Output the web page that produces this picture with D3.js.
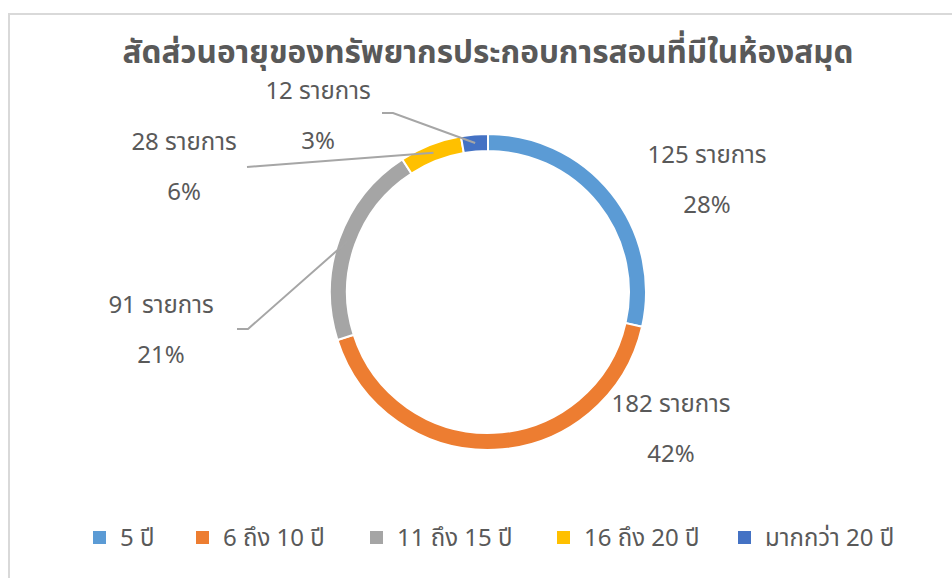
<!DOCTYPE html>
<html>
<head>
<meta charset="utf-8">
<script src="https://cdn.jsdelivr.net/npm/d3@7"></script>
<style>
  body { margin: 0; background: #ffffff; }
  svg text { font-family: "Noto Sans Thai", "Leelawadee UI", "Tahoma", "Noto Sans", "DejaVu Sans", sans-serif; }
</style>
</head>
<body>
<svg id="chart" width="952" height="578"></svg>
<script>
const title = "สัดส่วนอายุของทรัพยากรประกอบการสอนที่มีในห้องสมุด";
const categories = ["5 ปี", "6 ถึง 10 ปี", "11 ถึง 15 ปี", "16 ถึง 20 ปี", "มากกว่า 20 ปี"];
const counts = [125, 182, 91, 28, 12];
const percentLabels = ["28%", "42%", "21%", "6%", "3%"];
const colors = ["#5b9bd5", "#ed7d31", "#a5a5a5", "#ffc000", "#4472c4"];
const unit = "รายการ";

const svg = d3.select("#chart");
const W = 952, H = 578;

// chart area border
svg.append("rect")
  .attr("x", 9).attr("y", 14).attr("width", W + 20).attr("height", H + 20)
  .attr("fill", "#ffffff").attr("stroke", "#d9d9d9").attr("stroke-width", 2);

// title
svg.append("text")
  .attr("x", 488).attr("y", 63)
  .attr("text-anchor", "middle")
  .attr("font-size", 31.5).attr("font-weight", "bold")
  .attr("fill", "#595959")
  .text(title);

const cx = 488, cy = 292, rOuter = 158, rInner = 141;
const pie = d3.pie().sort(null).value(d => d)(counts);
const arc = d3.arc().innerRadius(rInner).outerRadius(rOuter);

const g = svg.append("g").attr("transform", `translate(${cx},${cy})`);
g.selectAll("path.slice").data(pie).join("path")
  .attr("class", "slice")
  .attr("d", arc)
  .attr("fill", (d, i) => colors[i])
  .attr("stroke", "#ffffff").attr("stroke-width", 2);

// label positions (relative to chart center) for each category
const labelPos = [
  { x: 219, y: -129 },
  { x: 183, y: 120 },
  { x: -327, y: 21 },
  { x: -304, y: -142 },
  { x: -170, y: -193 }
];
// leader lines: [label-side start, elbow] ; end on ring midpoint
const leaders = [
  null,
  null,
  { start: [-251, 37], elbow: [-240, 37] },
  { start: [-241, -125], elbow: [-228, -126] },
  { start: [-106, -179], elbow: [-95, -179] }
];
const midR = (rInner + rOuter) / 2;

pie.forEach((d, i) => {
  const L = leaders[i];
  if (L) {
    const a = (d.startAngle + d.endAngle) / 2;
    const end = [Math.sin(a) * midR, -Math.cos(a) * midR];
    g.append("polyline")
      .attr("points", [L.start, L.elbow, end].map(p => p.join(",")).join(" "))
      .attr("fill", "none").attr("stroke", "#a6a6a6").attr("stroke-width", 2);
  }
  const p = labelPos[i];
  g.append("text")
    .attr("x", p.x).attr("y", p.y)
    .attr("text-anchor", "middle")
    .attr("font-size", 24).attr("fill", "#595959")
    .text(counts[i] + " " + unit);
  g.append("text")
    .attr("x", p.x).attr("y", p.y + 50)
    .attr("text-anchor", "middle")
    .attr("font-size", 24).attr("fill", "#595959")
    .text(percentLabels[i]);
});

// legend
const legendX = [93, 196, 370, 557, 738];
const legend = svg.append("g");
categories.forEach((c, i) => {
  legend.append("rect")
    .attr("x", legendX[i]).attr("y", 531).attr("width", 13).attr("height", 13)
    .attr("fill", colors[i]);
  legend.append("text")
    .attr("x", legendX[i] + 27).attr("y", 546)
    .attr("font-size", 24).attr("fill", "#595959")
    .text(c);
});
</script>
</body>
</html>
